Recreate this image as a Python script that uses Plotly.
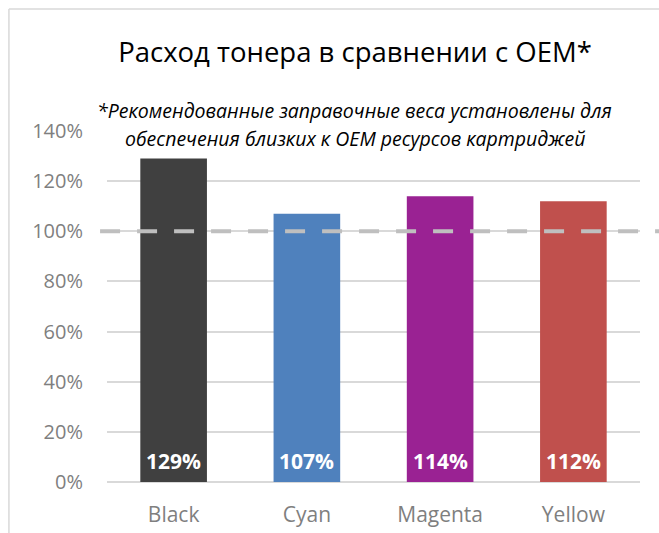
import plotly.graph_objects as go

categories = ["Black", "Cyan", "Magenta", "Yellow"]
values = [129, 107, 114, 112]
bar_colors = ["#404040", "#4f81bd", "#9a2293", "#c0504d"]
tick_vals = [0, 20, 40, 60, 80, 100, 120, 140]
tick_text = ["0%", "20%", "40%", "60%", "80%", "100%", "120%", "140%"]
reference_level = 100

title_text = "Расход тонера в сравнении с ОЕМ*"
note_lines = ["*Рекомендованные заправочные веса установлены для",
              "обеспечения близких к ОЕМ ресурсов картриджей"]

FONT = "Open Sans"

fig = go.Figure()
fig.add_trace(go.Bar(
    x=categories, y=values, marker=dict(color=bar_colors, line=dict(width=0)),
    width=0.5, hoverinfo="skip", showlegend=False,
))

# value labels at base of bars
for c, v in zip(categories, values):
    fig.add_annotation(x=c, y=0, text=f"{v}%", showarrow=False, yanchor="middle",
                       yshift=21, font=dict(family=FONT, size=21, color="white", weight="bold"))

# reference dashed line
fig.add_shape(type="line", xref="paper", yref="y", x0=-0.013, x1=1.2,
              y0=reference_level, y1=reference_level,
              line=dict(color="#bfbfbf", width=4, dash="20px,17px"), layer="above")

# chart border (left and top edges visible)
fig.add_shape(type="line", xref="paper", yref="paper", x0=-0.184, x1=1.3,
              y0=1.3476, y1=1.3476, line=dict(color="#d9d9d9", width=1.5), layer="below")
fig.add_shape(type="line", xref="paper", yref="paper", x0=-0.184, x1=-0.184,
              y0=-0.5, y1=1.3476, line=dict(color="#d9d9d9", width=1.5), layer="below")

fig.add_annotation(xref="paper", yref="paper", x=0.465, y=(482 - 110) / 351,
                   text=f"<i>{note_lines[0]}</i>", showarrow=False, yanchor="middle",
                   font=dict(family=FONT, size=19.5, color="#000000"))
fig.add_annotation(xref="paper", yref="paper", x=0.465, y=(482 - 138) / 351,
                   text=f"<i>{note_lines[1]}</i>", showarrow=False, yanchor="middle",
                   font=dict(family=FONT, size=19.5, color="#000000"))

fig.update_layout(
    width=659, height=533,
    margin=dict(l=107, r=19, t=131, b=51, autoexpand=False),
    paper_bgcolor="white", plot_bgcolor="white",
    title=dict(text=title_text, xref="container", yref="container",
               x=355 / 659, y=1 - 52 / 533, xanchor="center", yanchor="middle",
               font=dict(family=FONT, size=27.5, color="#000000")),
    bargap=0.5,
    xaxis=dict(showgrid=False, showline=False, ticks="", ticklabelstandoff=18,
               tickfont=dict(family=FONT, size=21, color="#7f7f7f")),
    yaxis=dict(range=[0, 140], tickvals=tick_vals, ticktext=tick_text,
               showgrid=True, gridcolor="#d9d9d9", gridwidth=1.5,
               zeroline=True, zerolinecolor="#d9d9d9", zerolinewidth=1.5,
               showline=False, ticks="", ticklabelstandoff=23,
               tickfont=dict(family=FONT, size=20, color="#7f7f7f")),
)

fig.write_html("out.html", config={"displayModeBar": False},
               post_script="document.body.style.margin='0';")
